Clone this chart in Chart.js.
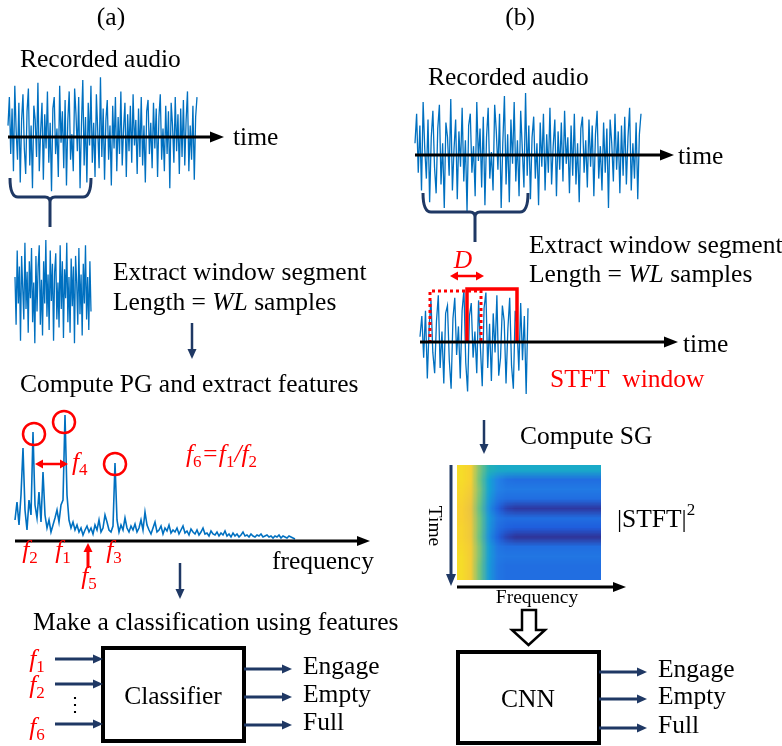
<!DOCTYPE html>
<html>
<head>
<meta charset="utf-8">
<script src="https://cdn.jsdelivr.net/npm/chart.js@4.4.0/dist/chart.umd.min.js"></script>
<style>
  html, body { margin: 0; padding: 0; background: #fff; }
  #wrap { width: 782px; height: 746px; }
</style>
</head>
<body>
<div id="wrap"><canvas id="fig"></canvas></div>
<script>
// recorded audio, normalised amplitude (same recording in (a) and (b))
const audioRec = [
  0.2, 0.7, -0.3, 0.5, -0.6, 0.9, 0.1, -0.4, 0.6, -0.8, 0.3, 0.75, -0.2, -0.65, 0.45, 0.85, -0.5, 0.2, -0.9, 0.55,
  0.3, -0.35, 0.95, -0.6, 0.1, 0.6, -0.75, 0.4, -0.2, 0.8, -0.45, 0.25, -0.95, 0.5, 0.7, -0.3, 0.15, -0.7, 0.9, -0.1,
  0.45, -0.55, 0.65, -0.85, 0.3, 0.8, -0.4, 0.05, -0.6, 0.85, 0.4, -0.25, 0.7, -0.9, 0.2, 1.0, -0.5, 0.35, -0.8, 0.6,
  -0.15, 0.9, -0.45, 0.25, -0.7, 0.75, 0.1, -0.55, 1.05, -0.35, 0.5, -0.75, 0.3, 0.65, -0.4, 0.2, -0.85, 0.55, -0.2, 0.7,
  -0.6, 0.35, -0.3, 0.8, -0.5, 0.15, 0.6, -0.7, 0.4, -0.25, 0.55, -0.45, 0.75, -0.15, 0.3, -0.65, 0.5, -0.35, 0.7, -0.5,
  0.2, -0.8, 0.45, 0.65, -0.3, 0.25, -0.55, 0.6, -0.2, 0.5, -0.7, 0.35, 0.75, -0.4, 0.15, -0.6, 0.55, -0.3, 0.45, -0.9,
  0.6, 0.2, -0.45, 0.7, -0.25, 0.4, -0.65, 0.5, -0.35, 0.65, -0.5, 0.3, 0.8, -0.6, 0.2, -0.4, 0.55, -0.75, 0.35, 0.7
]

// extracted window segments
const segmentA = [
  0.3, -0.6, 0.8, -0.2, 0.5, -0.9, 0.7, 0.1, -0.5, 0.95, -0.3, 0.4, -0.75, 0.6, -0.1, 0.85, -0.55, 0.2, -0.95, 0.7,
  -0.35, 0.5, 0.9, -0.6, 0.25, -0.8, 0.6, -0.2, 1.0, -0.45, 0.35, -0.7, 0.8, -0.15, 0.55, -0.9, 0.4, 0.75, -0.5, 0.2,
  -0.65, 0.9, -0.3, 0.6, -0.85, 0.45, -0.1, 0.95, -0.55, 0.3, -0.75, 0.65, -0.25, 0.5, -0.95, 0.7, 0.2, -0.6, 0.85, -0.4,
  0.35, -0.8, 0.55, -0.2, 0.9, -0.5, 0.3, -0.7, 0.6, -0.35
]
const segmentB = [
  0.1, 0.5, -0.3, 0.6, -0.7, 0.3, 0.8, -0.2, -0.6, 0.4, 0.9, -0.5, 0.2, -0.8, 0.55, 0.7, -0.35, -0.9, 0.45, 0.85,
  -0.25, 0.3, -0.7, 0.6, 1.0, -0.4, -0.95, 0.5, 0.75, -0.3, 0.2, -0.6, 0.8, -0.1, -0.85, 0.65, 0.95, -0.5, 0.35, -0.75,
  0.55, -0.2, 0.9, -0.65, -0.3, 0.7, 0.4, -0.8, 0.25, 0.85, -0.45, -0.9, 0.6, 0.3, -0.55, 0.75, -0.35, 0.5, -1.0, 0.65
]

// periodogram power per frequency bin
const pgPower = [
  20, 38, 15, 45, 92, 30, 10, 40, 25, 108,
  35, 22, 48, 18, 68, 25, 12, 20, 8, 15,
  22, 30, 18, 35, 40, 125, 45, 20, 12, 18,
  10, 15, 8, 12, 5, 10, 14, 8, 12, 6,
  15, 10, 20, 8, 12, 25, 18, 10, 8, 14,
  77, 20, 8, 15, 10, 22, 12, 8, 14, 10,
  16, 8, 12, 20, 10, 28, 15, 10, 6, 12,
  18, 8, 10, 14, 6, 12, 9, 15, 7, 10,
  8, 12, 6, 10, 14, 7, 9, 5, 11, 8,
  6, 10, 5, 8, 12, 6, 7, 4, 9, 6,
  5, 8, 4, 7, 5, 9, 4, 6, 3, 7,
  4, 6, 3, 5, 8, 4, 5, 3, 6, 4,
  3, 5, 4, 6, 3, 4, 5, 3, 4, 2,
  4, 3, 5, 2, 4, 3, 2, 4, 3, 2, 1
]

// spectrogram |STFT|^2, rows = time (top to bottom), cols = frequency
const sgGrid = [
  [0.86, 0.80, 0.52, 0.38, 0.34, 0.33, 0.33, 0.33, 0.33, 0.33, 0.33, 0.33, 0.33, 0.33, 0.33, 0.33],
  [0.86, 0.80, 0.50, 0.30, 0.20, 0.16, 0.15, 0.15, 0.15, 0.15, 0.15, 0.15, 0.15, 0.15, 0.15, 0.15],
  [0.84, 0.78, 0.52, 0.30, 0.20, 0.18, 0.18, 0.18, 0.18, 0.18, 0.18, 0.18, 0.18, 0.18, 0.18, 0.18],
  [0.82, 0.76, 0.50, 0.27, 0.17, 0.15, 0.15, 0.15, 0.15, 0.15, 0.15, 0.15, 0.15, 0.15, 0.15, 0.15],
  [0.80, 0.74, 0.48, 0.24, 0.12, 0.05, 0.03, 0.03, 0.03, 0.03, 0.03, 0.03, 0.03, 0.03, 0.03, 0.03],
  [0.80, 0.75, 0.50, 0.27, 0.17, 0.15, 0.15, 0.15, 0.15, 0.15, 0.15, 0.15, 0.15, 0.15, 0.15, 0.15],
  [0.82, 0.76, 0.50, 0.26, 0.15, 0.12, 0.11, 0.11, 0.11, 0.11, 0.11, 0.11, 0.11, 0.11, 0.11, 0.11],
  [0.82, 0.76, 0.49, 0.24, 0.12, 0.05, 0.02, 0.02, 0.02, 0.02, 0.02, 0.02, 0.02, 0.02, 0.02, 0.02],
  [0.84, 0.78, 0.52, 0.28, 0.17, 0.15, 0.15, 0.15, 0.15, 0.15, 0.15, 0.15, 0.15, 0.15, 0.15, 0.15],
  [0.86, 0.78, 0.52, 0.28, 0.18, 0.17, 0.17, 0.17, 0.17, 0.17, 0.17, 0.17, 0.17, 0.17, 0.17, 0.17],
  [0.86, 0.78, 0.50, 0.27, 0.17, 0.15, 0.15, 0.15, 0.15, 0.15, 0.15, 0.15, 0.15, 0.15, 0.15, 0.15],
  [0.86, 0.78, 0.50, 0.27, 0.17, 0.15, 0.15, 0.15, 0.15, 0.15, 0.15, 0.15, 0.15, 0.15, 0.15, 0.15]
]

const classLabels = ['Engage', 'Empty', 'Full']

// parula-like colour map
const parula = [
  [0.0, [53, 42, 135]], [0.1, [30, 90, 220]], [0.2, [35, 130, 230]], [0.3, [20, 165, 210]],
  [0.4, [40, 180, 175]], [0.5, [110, 195, 130]], [0.6, [175, 195, 100]], [0.7, [228, 188, 75]],
  [0.8, [248, 208, 50]], [0.9, [245, 228, 35]], [1.0, [249, 251, 14]]
]

const BLUE = '#0070c0'
const NAVY = '#1f3864'
const RED = '#ff0000'
const SERIF = '"Liberation Serif", "Times New Roman", serif'
const FS = 25.5 // main font size
const FSUB = 17 // subscript size

function placeWave(vals, x0, x1, base, amp) {
  const step = (x1 - x0) / (vals.length - 1)
  return vals.map((v, i) => ({ x: x0 + i * step, y: base - v * amp }))
}

function waveSet(points, width) {
  return {
    data: points,
    showLine: true,
    borderColor: BLUE,
    borderWidth: width,
    pointRadius: 0,
    tension: 0
  }
}

function cmap(v) {
  for (let i = 1; i < parula.length; i++) {
    if (v <= parula[i][0]) {
      const [a, ca] = parula[i - 1]
      const [b, cb] = parula[i]
      const t = (v - a) / (b - a)
      return ca.map((c, k) => Math.round(c + (cb[k] - c) * t))
    }
  }
  return parula[parula.length - 1][1]
}

// drawing helpers -------------------------------------------------------
function arrow(ctx, x1, y1, x2, y2, color, lw, hl, hw, both) {
  const ang = Math.atan2(y2 - y1, x2 - x1)
  const ca = Math.cos(ang), sa = Math.sin(ang)
  ctx.strokeStyle = color
  ctx.fillStyle = color
  ctx.lineWidth = lw
  ctx.setLineDash([])
  ctx.beginPath()
  ctx.moveTo(both ? x1 + ca * hl * 0.8 : x1, both ? y1 + sa * hl * 0.8 : y1)
  ctx.lineTo(x2 - ca * hl * 0.8, y2 - sa * hl * 0.8)
  ctx.stroke()
  const head = (tx, ty, dx, dy) => {
    ctx.beginPath()
    ctx.moveTo(tx, ty)
    ctx.lineTo(tx - dx * hl - dy * hw / 2, ty - dy * hl + dx * hw / 2)
    ctx.lineTo(tx - dx * hl + dy * hw / 2, ty - dy * hl - dx * hw / 2)
    ctx.closePath()
    ctx.fill()
  }
  head(x2, y2, ca, sa)
  if (both) head(x1, y1, -ca, -sa)
}

function text(ctx, str, x, y, opt) {
  opt = opt || {}
  ctx.font = (opt.it ? 'italic ' : '') + (opt.size || FS) + 'px ' + SERIF
  ctx.fillStyle = opt.color || '#000'
  ctx.textAlign = opt.align || 'left'
  ctx.textBaseline = 'middle'
  ctx.fillText(str, x, y)
}

// mixed runs: [text, italic, 'sub'|'sup'|undefined]
function runs(ctx, parts, x, y, color, align) {
  const fontOf = p => (p[1] ? 'italic ' : '') + (p[2] ? FSUB : FS) + 'px ' + SERIF
  let total = 0
  parts.forEach(p => { ctx.font = fontOf(p); total += ctx.measureText(p[0]).width })
  let cx = align === 'center' ? x - total / 2 : align === 'right' ? x - total : x
  ctx.fillStyle = color
  ctx.textAlign = 'left'
  ctx.textBaseline = 'middle'
  parts.forEach(p => {
    ctx.font = fontOf(p)
    const dy = p[2] === 'sub' ? 8 : p[2] === 'sup' ? -9 : 0
    ctx.fillText(p[0], cx, y + dy)
    cx += ctx.measureText(p[0]).width
  })
}

function brace(ctx, xl, xr, yTop, yBar, xc, yStem) {
  ctx.strokeStyle = NAVY
  ctx.lineWidth = 3
  ctx.setLineDash([])
  ctx.beginPath()
  ctx.moveTo(xl, yTop)
  ctx.quadraticCurveTo(xl, yBar, xl + 8, yBar)
  ctx.lineTo(xc - 5, yBar)
  ctx.quadraticCurveTo(xc, yBar, xc, yBar + 5)
  ctx.lineTo(xc, yStem)
  ctx.moveTo(xr, yTop)
  ctx.quadraticCurveTo(xr, yBar, xr - 8, yBar)
  ctx.lineTo(xc + 5, yBar)
  ctx.quadraticCurveTo(xc, yBar, xc, yBar + 5)
  ctx.stroke()
}

const diagram = {
  id: 'diagram',
  beforeDatasetsDraw(chart) {
    const ctx = chart.ctx
    const sx = v => chart.scales.x.getPixelForValue(v)
    const sy = v => chart.scales.y.getPixelForValue(v)
    // spectrogram image from sgGrid
    const rows = sgGrid.length, cols = sgGrid[0].length
    const off = document.createElement('canvas')
    off.width = cols
    off.height = rows
    const octx = off.getContext('2d')
    const img = octx.createImageData(cols, rows)
    sgGrid.forEach((row, r) => row.forEach((v, c) => {
      const [R, G, B] = cmap(v)
      const k = (r * cols + c) * 4
      img.data[k] = R; img.data[k + 1] = G; img.data[k + 2] = B; img.data[k + 3] = 255
    }))
    octx.putImageData(img, 0, 0)
    ctx.save()
    ctx.imageSmoothingEnabled = true
    ctx.beginPath()
    ctx.rect(sx(457), sy(465), sx(601) - sx(457), sy(580) - sy(465))
    ctx.clip()
    ctx.drawImage(off, -0.5, -0.5, cols + 1, rows + 1, sx(457) - 4.5, sy(465) - 4.8, sx(601) - sx(457) + 9, sy(580) - sy(465) + 9.6)
    ctx.restore()
  },
  afterDatasetsDraw(chart) {
    const ctx = chart.ctx
    const sx = v => chart.scales.x.getPixelForValue(v)
    const sy = v => chart.scales.y.getPixelForValue(v)
    const A = (x1, y1, x2, y2, c, lw, hl, hw, both) => arrow(ctx, sx(x1), sy(y1), sx(x2), sy(y2), c, lw, hl, hw, both)
    const T = (s, x, y, o) => text(ctx, s, sx(x), sy(y), o)
    const R = (p, x, y, c, al) => runs(ctx, p, sx(x), sy(y), c, al)
    ctx.save()

    // ---------- panel (a)
    T('(a)', 111, 18, { align: 'center' })
    T('Recorded audio', 20, 60)
    A(8, 137, 224, 137, '#000', 3, 14, 11)
    T('time', 233, 138)
    brace(ctx, sx(10), sx(91), sy(178), sy(197), sx(50), sy(227))
    T('Extract window segment', 113, 273)
    R([['Length = ', false], ['WL', true], [' samples', false]], 113, 303, '#000')
    A(192, 323, 192, 359, NAVY, 2.5, 10, 9)
    T('Compute PG and extract features', 20, 385)

    // periodogram axis and annotations
    A(15, 541, 370, 541, '#000', 3, 13, 10)
    T('frequency', 272, 562)
    ctx.strokeStyle = RED
    ctx.lineWidth = 2.5
    ;[[34, 434], [64, 422], [115, 464]].forEach(([cx, cy]) => {
      ctx.beginPath()
      ctx.arc(sx(cx), sy(cy), 11, 0, Math.PI * 2)
      ctx.stroke()
    })
    A(35, 464, 68, 464, RED, 2.5, 8, 9, true)
    R([['f', true], ['4', false, 'sub']], 72, 463, RED)
    R([['f', true], ['6', false, 'sub'], ['=', true], ['f', true], ['1', false, 'sub'], ['/', true], ['f', true], ['2', false, 'sub']], 186, 455, RED)
    R([['f', true], ['2', false, 'sub']], 30, 551, RED, 'center')
    R([['f', true], ['1', false, 'sub']], 63, 551, RED, 'center')
    R([['f', true], ['3', false, 'sub']], 114, 551, RED, 'center')
    A(88, 568, 88, 543, RED, 3, 9, 9)
    R([['f', true], ['5', false, 'sub']], 89, 577, RED, 'center')
    A(180, 563, 180, 599, NAVY, 2.5, 10, 9)

    // classifier
    T('Make a classification using features', 33, 623)
    ctx.strokeStyle = '#000'
    ctx.lineWidth = 4
    ctx.strokeRect(sx(103), sy(648), sx(244) - sx(103), sy(741) - sy(648))
    T('Classifier', 173, 697, { align: 'center' })
    ;[[659, '1', 660], [684, '2', 686], [724, '6', 728]].forEach(([y, n, ly]) => {
      A(55, y, 103, y, NAVY, 3, 10, 9)
      R([['f', true], [n, false, 'sub']], 37, ly, RED, 'center')
    })
    T('\u22EE', 75, 706, { align: 'center', size: 20 })
    ;[669, 697, 725].forEach((y, i) => {
      A(244, y, 292, y, NAVY, 3, 10, 9)
      T(classLabels[i], 303, y - 2)
    })

    // ---------- panel (b)
    T('(b)', 520, 18, { align: 'center' })
    T('Recorded audio', 428, 78)
    A(415, 155, 674, 155, '#000', 3, 14, 11)
    T('time', 678, 157)
    brace(ctx, sx(423), sx(528), sy(193), sy(212), sx(475), sy(242))
    T('Extract window segment', 529, 246)
    R([['Length = ', false], ['WL', true], [' samples', false]], 529, 275, '#000')

    // STFT windows
    T('D', 463, 261, { it: true, color: RED, align: 'center' })
    A(450, 276, 484, 276, RED, 2.5, 8, 9, true)
    ctx.strokeStyle = RED
    ctx.lineWidth = 3
    ctx.setLineDash([3, 3])
    ctx.beginPath()
    ctx.moveTo(sx(430), sy(343))
    ctx.lineTo(sx(430), sy(291))
    ctx.lineTo(sx(481), sy(291))
    ctx.lineTo(sx(481), sy(343))
    ctx.stroke()
    ctx.setLineDash([])
    ctx.lineWidth = 3.5
    ctx.beginPath()
    ctx.moveTo(sx(467), sy(343))
    ctx.lineTo(sx(467), sy(289))
    ctx.lineTo(sx(517), sy(289))
    ctx.lineTo(sx(517), sy(343))
    ctx.stroke()
    A(420, 342, 678, 342, '#000', 3, 14, 11)
    T('time', 683, 345)
    T('STFT  window', 550, 380, { color: RED })
    A(484, 420, 484, 454, NAVY, 2.5, 10, 9)
    T('Compute SG', 520, 437)

    // spectrogram axes
    A(451, 465, 451, 586, NAVY, 3, 12, 10)
    A(457, 587, 626, 587, '#000', 3, 13, 10)
    ctx.save()
    ctx.translate(sx(434), sy(526))
    ctx.rotate(Math.PI / 2)
    text(ctx, 'Time', 0, 0, { size: 19.5, align: 'center' })
    ctx.restore()
    T('Frequency', 537, 598, { size: 19.5, align: 'center' })
    R([['|STFT|', false], ['2', false, 'sup']], 617, 520, '#000')

    // hollow block arrow to CNN
    ctx.strokeStyle = '#000'
    ctx.fillStyle = '#fff'
    ctx.lineWidth = 2.5
    ctx.beginPath()
    ;[[522, 610], [536, 610], [536, 630], [545, 630], [528.5, 645], [512, 630], [522, 630]].forEach(([x, y], i) => {
      i ? ctx.lineTo(sx(x), sy(y)) : ctx.moveTo(sx(x), sy(y))
    })
    ctx.closePath()
    ctx.fill()
    ctx.stroke()

    ctx.lineWidth = 4
    ctx.strokeRect(sx(458), sy(652), sx(599) - sx(458), sy(743) - sy(652))
    T('CNN', 528, 700, { align: 'center' })
    ;[672, 699, 728].forEach((y, i) => {
      A(599, y, 647, y, NAVY, 3, 10, 9)
      T(classLabels[i], 658, y - 2)
    })

    ctx.restore()
  }
}

new Chart(document.getElementById('fig'), {
  type: 'scatter',
  data: {
    datasets: [
      waveSet(placeWave(audioRec, 8, 197, 137, 57), 1.3),
      waveSet(placeWave(segmentA, 15, 91, 293, 53), 1.3),
      waveSet(pgPower.map((v, i) => ({ x: 15 + i * 2, y: 540 - v })), 1.6),
      waveSet(placeWave(audioRec, 415, 641, 155, 59), 1.3),
      waveSet(placeWave(segmentB, 420, 528, 342, 52), 1.3)
    ]
  },
  options: {
    responsive: true,
    maintainAspectRatio: false,
    animation: false,
    events: [],
    layout: { padding: 0 },
    plugins: { legend: { display: false }, tooltip: { enabled: false } },
    scales: {
      x: { type: 'linear', min: 0, max: 782, display: false },
      y: { type: 'linear', min: 0, max: 746, reverse: true, display: false }
    }
  },
  plugins: [diagram]
})
</script>
</body>
</html>
